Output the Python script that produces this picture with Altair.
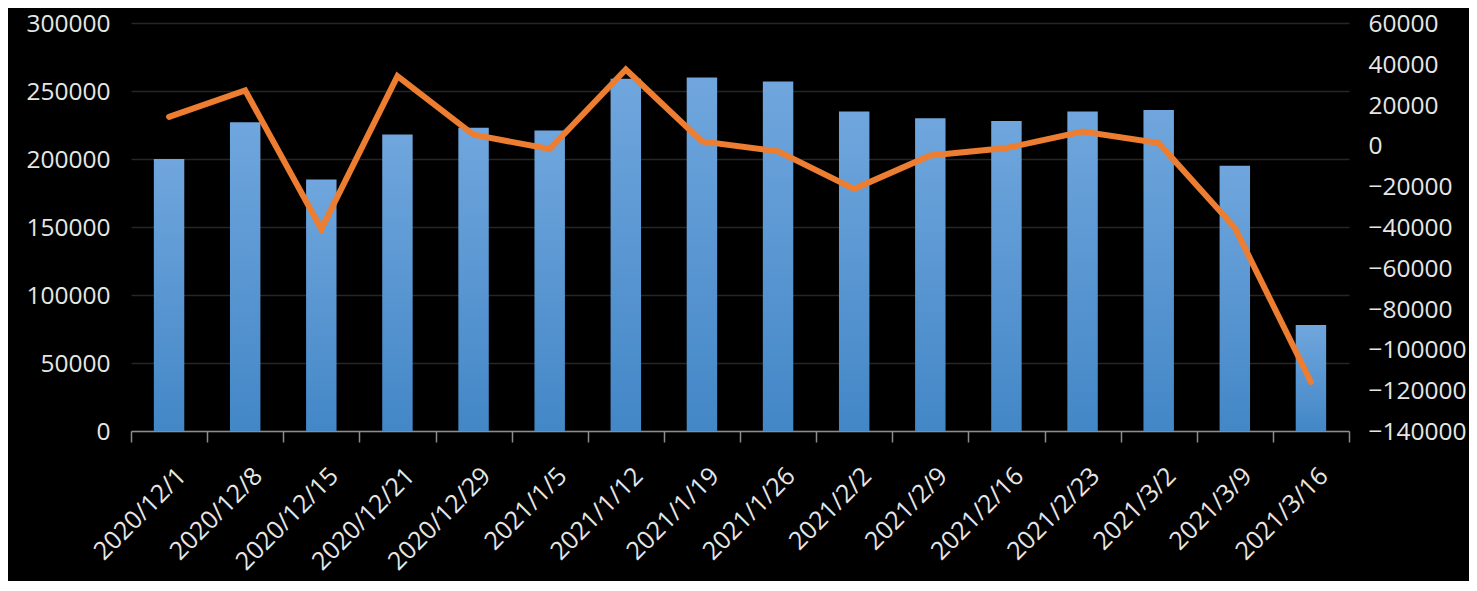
import altair as alt
import pandas as pd

dates = ["2020/12/1", "2020/12/8", "2020/12/15", "2020/12/21", "2020/12/29",
         "2021/1/5", "2021/1/12", "2021/1/19", "2021/1/26", "2021/2/2",
         "2021/2/9", "2021/2/16", "2021/2/23", "2021/3/2", "2021/3/9", "2021/3/16"]
bar_values = [200000, 227000, 185000, 218000, 223000, 221000, 259000, 260000,
              257000, 235000, 230000, 228000, 235000, 236000, 195000, 78000]
line_values = [14000, 27000, -41000, 34000, 5200, -1800, 37200, 1950,
               -2900, -21300, -4900, -1300, 6800, 1100, -40300, -116000]
left_ticks = [0, 50000, 100000, 150000, 200000, 250000, 300000]
right_ticks = [-140000, -120000, -100000, -80000, -60000, -40000, -20000,
               0, 20000, 40000, 60000]

df = pd.DataFrame({"date": dates, "bar": bar_values, "line": line_values})

FONT = "Open Sans"
LABEL = "#e6e6e6"

x_enc = alt.X(
    "date:N", sort=dates,
    scale=alt.Scale(paddingInner=0, paddingOuter=0),
    axis=alt.Axis(title=None, labelAngle=-45, labelFont=FONT, labelFontSize=25,
                  labelColor=LABEL, domainColor="#8c8c8c", tickColor="#8c8c8c",
                  tickSize=11, tickBand="extent", grid=False, labelPadding=21,
                  labelOffset=4, domainWidth=1.5, tickWidth=1.5),
)

grad = alt.Gradient(
    gradient="linear",
    stops=[alt.GradientStop(color="#70a6dd", offset=0),
           alt.GradientStop(color="#4387c7", offset=1)],
    x1=0, x2=0, y1=0, y2=1,
)

bars = alt.Chart(df).mark_bar(color=grad, width=alt.RelativeBandSize(0.4)).encode(
    x=x_enc,
    y=alt.Y("bar:Q", scale=alt.Scale(domain=[0, 300000], nice=False),
            axis=alt.Axis(values=left_ticks, title=None, format="d", grid=True,
                          gridColor="#262626", gridWidth=1.5, domain=False,
                          ticks=False, labelPadding=21, labelOffset=1.5,
                          labelFont=FONT, labelFontSize=24.5, labelColor=LABEL)),
)

line = alt.Chart(df).mark_line(color="#ed7d31", strokeWidth=6,
                               strokeCap="round").encode(
    x=x_enc,
    y=alt.Y("line:Q", scale=alt.Scale(domain=[-140000, 60000], nice=False),
            axis=alt.Axis(orient="right", values=right_ticks, title=None,
                          format="d", grid=False, domain=False, ticks=False,
                          labelPadding=19, labelOffset=1.5, labelFont=FONT,
                          labelFontSize=24.5, labelColor=LABEL)),
)

chart = alt.layer(bars, line).resolve_scale(y="independent").properties(
    width=1218, height=408, background="black",
    padding={"left": 123, "top": 15, "right": 120, "bottom": 150},
    autosize=alt.AutoSizeParams(type="none"),
).configure_view(stroke=None)

chart.save("out.html", embed_options={"renderer": "svg", "actions": False})
